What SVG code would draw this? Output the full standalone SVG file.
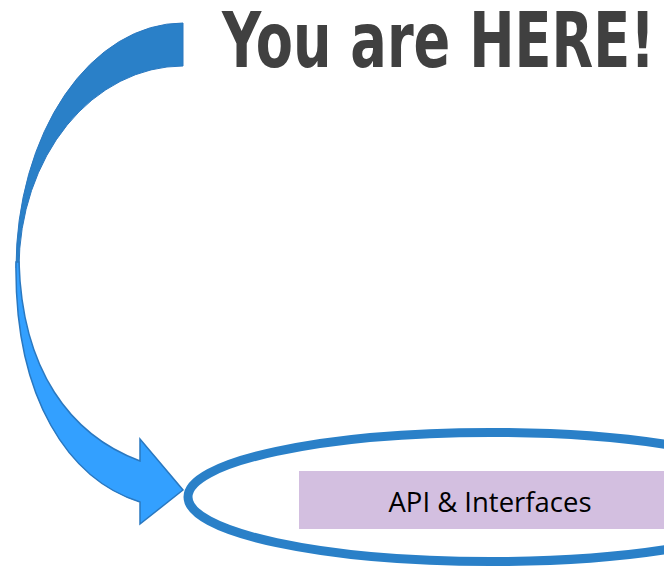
<svg xmlns="http://www.w3.org/2000/svg" width="664" height="568" viewBox="0 0 664 568">
<style>
.title{font-family:"Liberation Sans Narrow","DejaVu Sans Condensed","Liberation Sans",sans-serif;font-weight:bold;fill:#404040}
.lbl{font-family:"Open Sans","Noto Sans","Liberation Sans",sans-serif;fill:#000}
.back{fill:#2A80C8;stroke:#2A78C0;stroke-width:1}
.front{fill:#33A0FF;stroke:#2A78C0;stroke-width:1.5}
</style>
<rect width="664" height="568" fill="#fff"/>
<g id="title">
<text class="title" x="222" y="67" font-size="76" textLength="433" lengthAdjust="spacingAndGlyphs">You are HERE!</text>
</g>
<g id="connectors">
<path class="back" d="M183,23 A167,245 0 0 0 16,268 L19,268 A164,202 0 0 1 183,66 Z"/>
<path class="front" d="M16,262 C14,400 70,480 140,502 L140,524 L183,490 L140,439 L140,461 C70,435 22,370 19,262 Z"/>
</g>
<g id="api">
<rect x="299" y="471" width="370" height="58" fill="#D3BFE0"/>
<text class="lbl" x="490" y="512" font-size="27" text-anchor="middle" textLength="203" lengthAdjust="spacingAndGlyphs">API &amp; Interfaces</text>
</g>
<g id="highlight">
<ellipse cx="490" cy="497" rx="302" ry="64.5" fill="none" stroke="#2A80C8" stroke-width="9"/>
</g>
</svg>
